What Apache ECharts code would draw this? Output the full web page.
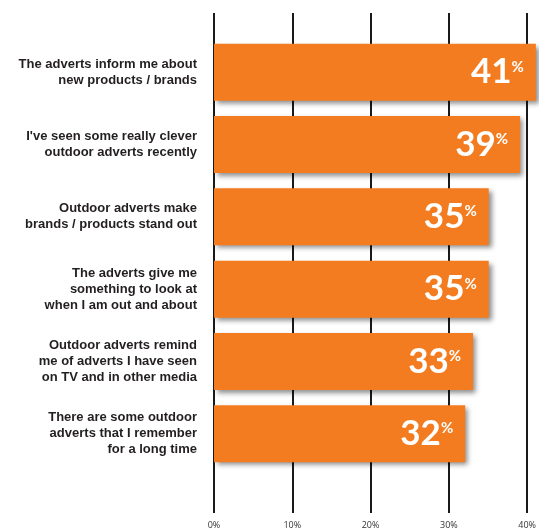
<!DOCTYPE html>
<html>
<head>
<meta charset="utf-8">
<script src="https://cdn.jsdelivr.net/npm/echarts@6/dist/echarts.min.js"></script>
<style>
html,body{margin:0;padding:0;background:#fff;}
#chart{width:539px;height:530px;}
</style>
</head>
<body>
<div id="chart"></div>
<script>
// statements, top to bottom
var categories = [
    'The adverts inform me about\nnew products / brands',
    "I've seen some really clever\noutdoor adverts recently",
    'Outdoor adverts make\nbrands / products stand out',
    'The adverts give me\nsomething to look at\nwhen I am out and about',
    'Outdoor adverts remind\nme of adverts I have seen\non TV and in other media',
    'There are some outdoor\nadverts that I remember\nfor a long time'
];
var values = [41, 39, 35, 35, 33, 32];
var tickLabels = ['0%', '10%', '20%', '30%', '40%'];

var myChart = echarts.init(document.getElementById('chart'));
var option = {
    animation: false,
    grid: [
        // background grid for the vertical lines + axis labels
        {left: 214, right: 11, top: 13, bottom: 16},
        // grid for the bars
        {left: 214, right: 11, top: 36, bottom: 60}
    ],
    xAxis: [
        {
            gridIndex: 0,
            type: 'value',
            min: 0,
            max: 40,
            interval: 10,
            axisLine: {show: false},
            axisTick: {show: false},
            splitLine: {show: true, lineStyle: {color: '#1a1a1a', width: 2}},
            axisLabel: {
                margin: 8,
                color: '#333',
                fontSize: 9,
                fontFamily: 'Open Sans',
                formatter: function (v) { return tickLabels[v / 10]; }
            }
        },
        {
            gridIndex: 1,
            type: 'value',
            min: 0,
            max: 40,
            show: false
        }
    ],
    yAxis: [
        {gridIndex: 0, type: 'value', min: 0, max: 1, show: false},
        {
            gridIndex: 1,
            type: 'category',
            inverse: true,
            data: categories,
            axisLine: {show: false},
            axisTick: {show: false},
            axisLabel: {
                margin: 17,
                color: '#231f20',
                fontSize: 13,
                lineHeight: 16,
                fontWeight: 'bold',
                fontFamily: 'Liberation Sans',
                align: 'right'
            }
        }
    ],
    series: [
        {
            type: 'bar',
            xAxisIndex: 1,
            yAxisIndex: 1,
            clip: false,
            barWidth: 57,
            data: values,
            itemStyle: {
                color: '#f47c20',
                shadowColor: 'rgba(0,0,0,0.45)',
                shadowBlur: 5,
                shadowOffsetX: 3,
                shadowOffsetY: 3
            },
            label: {
                show: true,
                position: 'insideRight',
                distance: 12,
                formatter: '{n|{c}}{p|%}',
                rich: {
                    n: {color: '#fff', fontSize: 35, fontFamily: 'Lato', fontWeight: 'bold'},
                    p: {color: '#fff', fontSize: 15, fontFamily: 'Lato', fontWeight: 'bold', padding: [0, 0, 11, 0]}
                }
            }
        }
    ]
};
myChart.setOption(option);
</script>
</body>
</html>
